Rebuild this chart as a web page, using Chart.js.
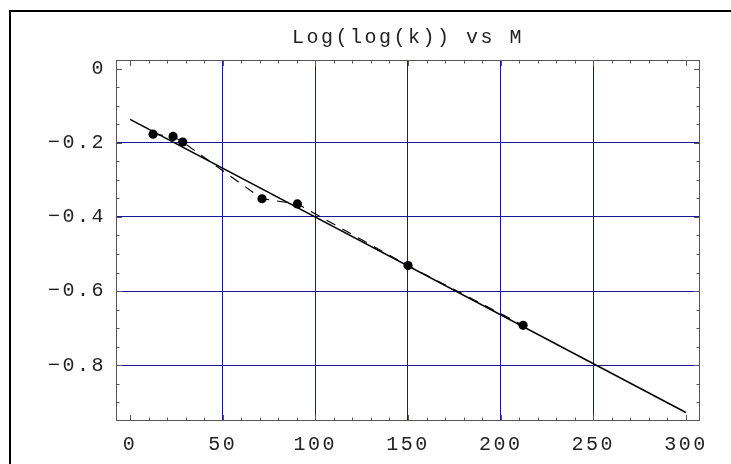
<!DOCTYPE html>
<html>
<head>
<meta charset="utf-8">
<script src="https://cdn.jsdelivr.net/npm/chart.js@4.4.1/dist/chart.umd.min.js"></script>
<style>
  html, body { margin: 0; padding: 0; background: #fff; }
  canvas { display: block; }
</style>
</head>
<body>
<canvas id="logChart" width="731" height="464"></canvas>
<script>
// Measured points: M vs log(log(k))
const mValues = [12.4, 23.2, 28.4, 71.2, 90.3, 150.0, 212.1];
const logLogK = [-0.177, -0.183, -0.198, -0.351, -0.365, -0.531, -0.692];

// Straight fit line end points
const fitM = [0, 300];
const fitLogLogK = [-0.137, -0.927];

// Axis ticks
const xTickValues = [0, 50, 100, 150, 200, 250, 300];
const yTickValues = [0, -0.2, -0.4, -0.6, -0.8];
const xRange = [-7.6, 307.6];
const yRange = [-0.95, 0.023];

const FONT = "'Liberation Mono', 'DejaVu Sans Mono', monospace";
const SPACING = '2.5px';

// Frame, outer border and inward tick marks (Mathematica style)
const framePlugin = {
    id: 'frame',
    beforeLayout(chart) {
        chart.ctx.letterSpacing = SPACING;
    },
    beforeDraw(chart) {
        const ctx = chart.ctx;
        ctx.letterSpacing = SPACING;
        ctx.save();
        ctx.fillStyle = '#000';
        ctx.fillRect(9, 10, 2, chart.height - 10);
        ctx.fillRect(9, 10, chart.width - 9, 2);
        ctx.restore();
    },
    afterDraw(chart) {
        const ctx = chart.ctx;
        const a = chart.chartArea;
        const x = chart.scales.x;
        const y = chart.scales.y;
        ctx.save();
        ctx.strokeStyle = '#555';
        ctx.lineWidth = 1;
        ctx.strokeRect(a.left + 0.5, a.top + 0.5, a.right - a.left - 1, a.bottom - a.top - 1);

        ctx.beginPath();
        // x ticks every 10, major at labelled values
        for (let v = 0; v <= 300; v += 10) {
            const px = Math.round(x.getPixelForValue(v)) + 0.5;
            const len = v % 50 === 0 ? 6 : 3.5;
            ctx.moveTo(px, a.bottom); ctx.lineTo(px, a.bottom - len);
            ctx.moveTo(px, a.top); ctx.lineTo(px, a.top + len);
        }
        // y ticks every 0.05, major at labelled values
        for (let i = 0; i <= 18; i++) {
            const v = -i * 0.05;
            const py = Math.round(y.getPixelForValue(v)) + 0.5;
            const len = i % 4 === 0 ? 6 : 3.5;
            ctx.moveTo(a.left, py); ctx.lineTo(a.left + len, py);
            ctx.moveTo(a.right, py); ctx.lineTo(a.right - len, py);
        }
        ctx.stroke();
        ctx.restore();
    }
};

function gridColor(ctx) {
    const v = ctx.tick ? ctx.tick.value : null;
    if (v === 0 || v === 300) return 'rgba(0,0,0,0)';
    return 'rgb(24,24,150)';
}

const chart = new Chart(document.getElementById('logChart'), {
    type: 'scatter',
    data: {
        datasets: [
            {
                label: 'fit',
                data: fitM.map((m, i) => ({ x: m, y: fitLogLogK[i] })),
                showLine: true,
                borderColor: '#000',
                borderWidth: 1.5,
                pointRadius: 0,
                order: 2
            },
            {
                label: 'data',
                data: mValues.map((m, i) => ({ x: m, y: logLogK[i] })),
                showLine: true,
                borderColor: '#000',
                borderWidth: 1.1,
                borderDash: [10, 8],
                pointRadius: 4.6,
                pointBackgroundColor: '#000',
                pointBorderWidth: 0,
                order: 1
            }
        ]
    },
    options: {
        responsive: false,
        animation: false,
        layout: { padding: { left: 0, right: 31, top: 0, bottom: 0 } },
        plugins: {
            legend: { display: false },
            tooltip: { enabled: false },
            title: {
                display: true,
                text: 'Log(log(k)) vs M',
                fullSize: false,
                color: '#222',
                font: { family: FONT, size: 20, weight: 'normal', lineHeight: 1.2 },
                padding: { top: 26, bottom: 10 }
            }
        },
        scales: {
            x: {
                type: 'linear',
                min: xRange[0],
                max: xRange[1],
                afterBuildTicks: s => { s.ticks = xTickValues.map(v => ({ value: v })); },
                afterFit: s => { s.height = 43; },
                grid: { color: gridColor, lineWidth: 1, drawTicks: false },
                border: { display: false },
                ticks: {
                    color: '#222',
                    padding: 12,
                    maxRotation: 0,
                    font: { family: FONT, size: 20 },
                    callback: v => String(v)
                }
            },
            y: {
                type: 'linear',
                min: yRange[0],
                max: yRange[1],
                afterBuildTicks: s => { s.ticks = yTickValues.map(v => ({ value: v })); },
                afterFit: s => { s.width = 116; },
                grid: { color: gridColor, lineWidth: 1, drawTicks: false },
                border: { display: false },
                ticks: {
                    color: '#222',
                    padding: 10,
                    font: { family: FONT, size: 20 },
                    callback: v => v === 0 ? '0' : '\u2212' + Math.abs(v).toFixed(1)
                }
            }
        }
    },
    plugins: [framePlugin]
});
</script>
</body>
</html>
